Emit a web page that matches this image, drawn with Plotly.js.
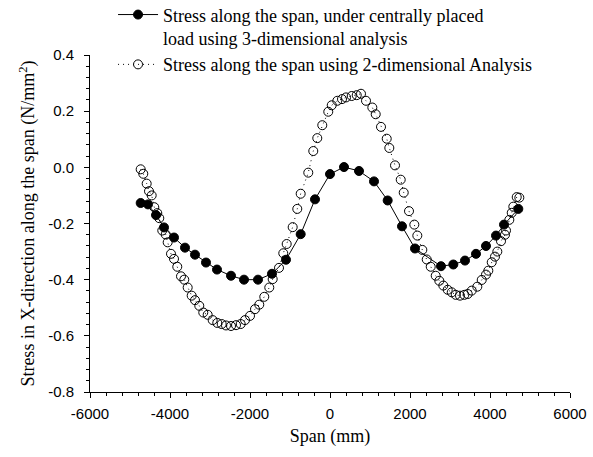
<!DOCTYPE html>
<html>
<head>
<meta charset="utf-8">
<script src="https://cdn.plot.ly/plotly-3.0.1.min.js"></script>
<style>html,body{margin:0;padding:0;background:#fff;}#chart{width:593px;height:457px;}</style>
</head>
<body>
<div id="chart"></div>
<script>
// 3-dimensional analysis (filled circles, solid line)
var span3D = [-4733, -4550, -4350, -4150, -3900, -3625, -3375, -3100, -2825, -2475, -2150, -1800, -1450, -1100, -733, -375, 0, 350, 725, 1100, 1442, 1800, 2125, 2775, 3083, 3375, 3650, 3900, 4150, 4350, 4708];
var stress3D = [-0.127, -0.132, -0.17, -0.214, -0.25, -0.286, -0.311, -0.339, -0.364, -0.386, -0.40, -0.40, -0.379, -0.329, -0.238, -0.114, -0.024, 0.001, -0.013, -0.05, -0.118, -0.21, -0.289, -0.352, -0.346, -0.332, -0.308, -0.28, -0.243, -0.204, -0.148];

// 2-dimensional analysis (open circles, dotted line)
var span2D = [-4733, -4668, -4583, -4525, -4458, -4393, -4318, -4268, -4193, -4108, -4058, -3975, -3900, -3818, -3725, -3643, -3558, -3458, -3375, -3268, -3168, -3058, -2933, -2818, -2708, -2600, -2475, -2350, -2233, -2125, -2000, -1875, -1768, -1643, -1518, -1433, -1275, -1168, -1083, -933, -818, -733, -543, -418, -318, -193, -43, 43, 183, 300, 400, 543, 668, 775, 900, 1058, 1143, 1275, 1418, 1483, 1625, 1768, 1843, 1975, 2108, 2183, 2308, 2418, 2518, 2643, 2733, 2833, 2943, 3043, 3143, 3250, 3358, 3443, 3543, 3683, 3793, 3900, 3958, 4043, 4125, 4183, 4275, 4375, 4400, 4483, 4543, 4583, 4668, 4733];
var stress2D = [-0.007, -0.023, -0.058, -0.085, -0.10, -0.142, -0.163, -0.181, -0.225, -0.239, -0.267, -0.308, -0.326, -0.354, -0.388, -0.40, -0.428, -0.457, -0.473, -0.493, -0.517, -0.525, -0.544, -0.554, -0.558, -0.563, -0.565, -0.562, -0.558, -0.544, -0.529, -0.505, -0.489, -0.461, -0.428, -0.398, -0.358, -0.306, -0.273, -0.213, -0.148, -0.094, -0.019, 0.058, 0.104, 0.15, 0.198, 0.221, 0.237, 0.243, 0.249, 0.254, 0.257, 0.262, 0.237, 0.213, 0.189, 0.144, 0.102, 0.069, 0.007, -0.044, -0.09, -0.156, -0.204, -0.243, -0.294, -0.328, -0.354, -0.386, -0.404, -0.421, -0.436, -0.445, -0.454, -0.457, -0.454, -0.451, -0.439, -0.425, -0.401, -0.382, -0.368, -0.338, -0.318, -0.30, -0.263, -0.24, -0.225, -0.187, -0.162, -0.14, -0.106, -0.108];

// Tick labels (hyphen-minus as in the original)
var xTickVals = [-6000, -4000, -2000, 0, 2000, 4000, 6000];
var xTickText = ['-6000', '-4000', '-2000', '0', '2000', '4000', '6000'];
var yTickVals = [-0.8, -0.6, -0.4, -0.2, 0.0, 0.2, 0.4];
var yTickText = ['-0.8', '-0.6', '-0.4', '-0.2', '0.0', '0.2', '0.4'];

var name3D = 'Stress along the span, under centrally placed<br>load using 3-dimensional analysis';
var name2D = 'Stress along the span using 2-dimensional Analysis';

var traces = [
  {
    x: span3D, y: stress3D, name: name3D, type: 'scatter', mode: 'lines+markers',
    line: {color: '#000', width: 1},
    marker: {symbol: 'circle', size: 9, color: '#000', line: {color: '#000', width: 1}}
  },
  {
    x: span2D, y: stress2D, name: name2D, type: 'scatter', mode: 'lines+markers',
    line: {color: '#000', width: 1, dash: '1px,4px'},
    marker: {symbol: 'circle-open', size: 9, color: '#000', line: {color: '#000', width: 1}}
  }
];

var tickFont = {family: 'Liberation Sans, Arial, sans-serif', size: 15, color: '#000'};
var serif = 'Liberation Serif, Times New Roman, serif';

var layout = {
  width: 593, height: 457,
  margin: {l: 90, r: 23, t: 55, b: 65, autoexpand: false},
  paper_bgcolor: '#fff', plot_bgcolor: '#fff',
  showlegend: true,
  legend: {
    x: 0.048, y: 1.174, xanchor: 'left', yanchor: 'top',
    font: {family: serif, size: 18, color: '#000'},
    bgcolor: 'rgba(0,0,0,0)', tracegroupgap: 0, itemwidth: 40, valign: 'top'
  },
  xaxis: {
    range: [-6000, 6000], tickmode: 'array', tickvals: xTickVals, ticktext: xTickText,
    showgrid: false, zeroline: false, showline: true, linecolor: '#000', linewidth: 1,
    ticks: 'outside', ticklen: 5, tickcolor: '#000', tickfont: tickFont, ticklabelstandoff: 3,
    minor: {dtick: 400, tick0: 0, ticks: 'outside', ticklen: 3, tickcolor: '#000', showgrid: false},
    title: {text: 'Span (mm)', font: {family: serif, size: 18, color: '#000'}, standoff: 8}
  },
  yaxis: {
    range: [-0.8, 0.4], tickmode: 'array', tickvals: yTickVals, ticktext: yTickText,
    showgrid: false, zeroline: false, showline: true, linecolor: '#000', linewidth: 1,
    ticks: 'outside', ticklen: 5, tickcolor: '#000', tickfont: tickFont, ticklabelstandoff: 7,
    minor: {dtick: 0.04, tick0: 0, ticks: 'outside', ticklen: 3, tickcolor: '#000', showgrid: false},
    title: {text: 'Stress in X-direction along the span (N/mm<sup>2</sup>)', font: {family: serif, size: 18, color: '#000'}, standoff: 8}
  }
};

Plotly.newPlot('chart', traces, layout, {displayModeBar: false, staticPlot: true});
</script>
</body>
</html>
